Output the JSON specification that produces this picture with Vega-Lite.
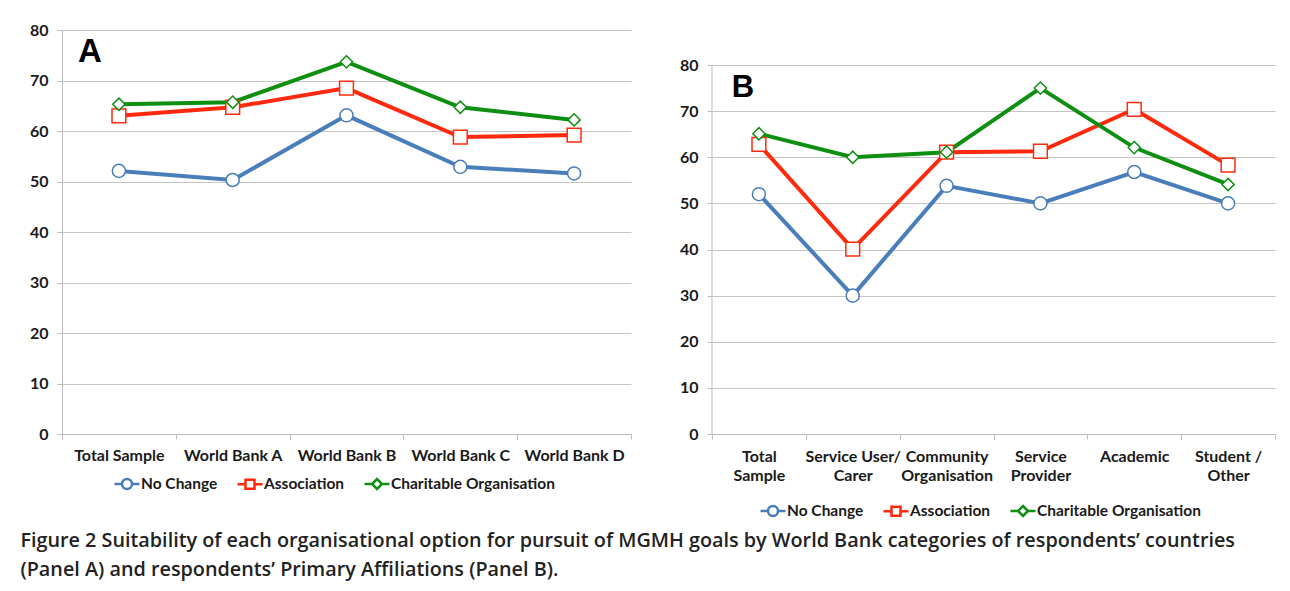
{
  "$schema": "https://vega.github.io/schema/vega-lite/v6.json",
  "padding": {"left": 20, "top": 22, "right": 10, "bottom": 4},
  "background": "white",
  "config": {
    "view": {"stroke": null},
    "font": "Lato",
    "axis": {"labelFont": "Lato", "labelFontSize": 16, "labelFontWeight": "bold", "labelColor": "#1a1a1a", "domainColor": "#bdbdbd", "tickColor": "#bdbdbd", "gridColor": "#c4c4c4", "title": null},
    "legend": {"labelFont": "Lato", "labelFontSize": 15.5, "labelFontWeight": "bold", "labelColor": "#1a1a1a", "labelLimit": 0}
  },
  "resolve": {"legend": {"color": "independent"}},
  "title": {
    "text": ["Figure 2 Suitability of each organisational option for pursuit of MGMH goals by World Bank categories of respondents’ countries", "(Panel A) and respondents’ Primary Affiliations (Panel B)."],
    "orient": "bottom", "anchor": "start", "font": "Open Sans", "fontSize": 19.8, "fontWeight": 600, "lineHeight": 28.5, "color": "#222222", "offset": 10, "dx": -9
  },
  "datasets": {
    "A": [
      {"category": "Total Sample", "series": "No Change", "value": 52.1},
      {"category": "World Bank A", "series": "No Change", "value": 50.3},
      {"category": "World Bank B", "series": "No Change", "value": 63.1},
      {"category": "World Bank C", "series": "No Change", "value": 52.9},
      {"category": "World Bank D", "series": "No Change", "value": 51.6},
      {"category": "Total Sample", "series": "Association", "value": 63.0},
      {"category": "World Bank A", "series": "Association", "value": 64.7},
      {"category": "World Bank B", "series": "Association", "value": 68.5},
      {"category": "World Bank C", "series": "Association", "value": 58.8},
      {"category": "World Bank D", "series": "Association", "value": 59.2},
      {"category": "Total Sample", "series": "Charitable Organisation", "value": 65.3},
      {"category": "World Bank A", "series": "Charitable Organisation", "value": 65.7},
      {"category": "World Bank B", "series": "Charitable Organisation", "value": 73.7},
      {"category": "World Bank C", "series": "Charitable Organisation", "value": 64.7},
      {"category": "World Bank D", "series": "Charitable Organisation", "value": 62.2}
    ],
    "B": [
      {"category": "Total Sample", "series": "No Change", "value": 52.0},
      {"category": "Service User/ Carer", "series": "No Change", "value": 30.0},
      {"category": "Community Organisation", "series": "No Change", "value": 53.8},
      {"category": "Service Provider", "series": "No Change", "value": 50.0},
      {"category": "Academic", "series": "No Change", "value": 56.8},
      {"category": "Student / Other", "series": "No Change", "value": 50.0},
      {"category": "Total Sample", "series": "Association", "value": 62.8},
      {"category": "Service User/ Carer", "series": "Association", "value": 40.1},
      {"category": "Community Organisation", "series": "Association", "value": 61.1},
      {"category": "Service Provider", "series": "Association", "value": 61.3},
      {"category": "Academic", "series": "Association", "value": 70.4},
      {"category": "Student / Other", "series": "Association", "value": 58.3},
      {"category": "Total Sample", "series": "Charitable Organisation", "value": 65.1},
      {"category": "Service User/ Carer", "series": "Charitable Organisation", "value": 60.0},
      {"category": "Community Organisation", "series": "Charitable Organisation", "value": 61.1},
      {"category": "Service Provider", "series": "Charitable Organisation", "value": 75.0},
      {"category": "Academic", "series": "Charitable Organisation", "value": 62.1},
      {"category": "Student / Other", "series": "Charitable Organisation", "value": 54.1}
    ],
    "labelA": [{"label": "A"}],
    "labelB": [{"label": "B"}],
    "axisB": [{"from": 0, "to": 80}]
  },
  "spacing": 47,
  "hconcat": [
    {
      "width": 569,
      "height": 404,
      "layer": [
        {
          "data": {"name": "A"},
          "encoding": {
            "x": {"field": "category", "type": "nominal", "bandPosition": 0.5, "sort": ["Total Sample", "World Bank A", "World Bank B", "World Bank C", "World Bank D"], "scale": {"type": "band", "paddingInner": 0, "paddingOuter": 0}, "axis": {"labelAngle": 0, "tickBand": "extent", "tickSize": 5, "labelPadding": 8, "labelLimit": 0}},
            "y": {"field": "value", "type": "quantitative", "scale": {"domain": [0, 80], "nice": false}, "axis": {"values": [0, 10, 20, 30, 40, 50, 60, 70, 80], "grid": true, "tickSize": 5, "labelPadding": 9}},
            "color": {"field": "series", "type": "nominal", "scale": {"domain": ["No Change", "Association", "Charitable Organisation"], "range": ["#4a7ebb", "#ff2a0e", "#0f8f12"]}, "legend": null}
          },
          "layer": [
            {
              "mark": {"type": "line", "strokeWidth": 4},
              "encoding": {
                "color": {"field": "series", "type": "nominal",
                  "legend": {"orient": "none", "legendX": 51, "legendY": 440, "direction": "horizontal", "title": null, "symbolSize": 625, "symbolStrokeWidth": 2.5, "columnPadding": 14, "labelOffset": 0,
                    "encode": {"symbols": {"update": {"shape": {"signal": "datum.value === 'No Change' ? 'M-1,0H-0.4M0.4,0H1M-0.4,0A0.4,0.4,0,1,1,0.4,0A0.4,0.4,0,1,1,-0.4,0Z' : datum.value === 'Association' ? 'M-1,0H-0.36M0.36,0H1M-0.36,-0.36H0.36V0.36H-0.36Z' : 'M-1,0H-0.4M0.4,0H1M-0.4,0L0,-0.4L0.4,0L0,0.4Z'"}, "fill": {"value": "white"}}}}}}
              }
            },
            {
              "transform": [{"filter": "datum.series === 'No Change'"}],
              "mark": {"type": "point", "shape": "circle", "filled": false, "fill": "white", "fillOpacity": 1, "opacity": 1, "strokeWidth": 1.5, "size": 170}
            },
            {
              "transform": [{"filter": "datum.series === 'Association'"}],
              "mark": {"type": "point", "shape": "square", "filled": false, "fill": "white", "fillOpacity": 1, "opacity": 1, "strokeWidth": 1.5, "size": 190}
            },
            {
              "transform": [{"filter": "datum.series === 'Charitable Organisation'"}],
              "mark": {"type": "point", "shape": "diamond", "filled": false, "fill": "white", "fillOpacity": 1, "opacity": 1, "strokeWidth": 1.5, "size": 150}
            }
          ]
        },
        {
          "data": {"name": "labelA"},
          "mark": {"type": "text", "font": "Liberation Sans", "fontSize": 33, "fontWeight": "bold", "align": "center", "baseline": "middle", "dx": -29, "color": "black"},
          "encoding": {
            "x": {"datum": "Total Sample", "type": "nominal"},
            "y": {"datum": 75.6, "type": "quantitative"},
            "text": {"field": "label"}
          }
        }
      ]
    },
    {
      "width": 563,
      "height": 404,
      "layer": [
        {
          "data": {"name": "B"},
          "encoding": {
            "x": {"field": "category", "type": "nominal", "bandPosition": 0.5, "sort": ["Total Sample", "Service User/ Carer", "Community Organisation", "Service Provider", "Academic", "Student / Other"], "scale": {"type": "band", "paddingInner": 0, "paddingOuter": 0},
              "axis": {"labelAngle": 0, "tickBand": "extent", "tickSize": 5, "labelPadding": 9, "labelLimit": 0, "labelLineHeight": 19,
                "labelExpr": "datum.label === 'Total Sample' ? ['Total', 'Sample'] : datum.label === 'Service User/ Carer' ? ['Service User/', 'Carer'] : datum.label === 'Community Organisation' ? ['Community', 'Organisation'] : datum.label === 'Service Provider' ? ['Service', 'Provider'] : datum.label === 'Student / Other' ? ['Student /', 'Other'] : datum.label"}},
            "y": {"field": "value", "type": "quantitative", "scale": {"domain": [0, 87.59], "nice": false}, "axis": {"values": [0, 10, 20, 30, 40, 50, 60, 70, 80], "grid": true, "domain": false, "tickSize": 5, "labelPadding": 9}},
            "color": {"field": "series", "type": "nominal", "scale": {"domain": ["No Change", "Association", "Charitable Organisation"], "range": ["#4a7ebb", "#ff2a0e", "#0f8f12"]}, "legend": null}
          },
          "layer": [
            {
              "mark": {"type": "line", "strokeWidth": 4},
              "encoding": {
                "color": {"field": "series", "type": "nominal",
                  "legend": {"orient": "none", "legendX": 47, "legendY": 467, "direction": "horizontal", "title": null, "symbolSize": 625, "symbolStrokeWidth": 2.5, "columnPadding": 14, "labelOffset": 0,
                    "encode": {"symbols": {"update": {"shape": {"signal": "datum.value === 'No Change' ? 'M-1,0H-0.4M0.4,0H1M-0.4,0A0.4,0.4,0,1,1,0.4,0A0.4,0.4,0,1,1,-0.4,0Z' : datum.value === 'Association' ? 'M-1,0H-0.36M0.36,0H1M-0.36,-0.36H0.36V0.36H-0.36Z' : 'M-1,0H-0.4M0.4,0H1M-0.4,0L0,-0.4L0.4,0L0,0.4Z'"}, "fill": {"value": "white"}}}}}}
              }
            },
            {
              "transform": [{"filter": "datum.series === 'No Change'"}],
              "mark": {"type": "point", "shape": "circle", "filled": false, "fill": "white", "fillOpacity": 1, "opacity": 1, "strokeWidth": 1.5, "size": 170}
            },
            {
              "transform": [{"filter": "datum.series === 'Association'"}],
              "mark": {"type": "point", "shape": "square", "filled": false, "fill": "white", "fillOpacity": 1, "opacity": 1, "strokeWidth": 1.5, "size": 190}
            },
            {
              "transform": [{"filter": "datum.series === 'Charitable Organisation'"}],
              "mark": {"type": "point", "shape": "diamond", "filled": false, "fill": "white", "fillOpacity": 1, "opacity": 1, "strokeWidth": 1.5, "size": 150}
            }
          ]
        },
        {
          "data": {"name": "axisB"},
          "mark": {"type": "rule", "color": "#bdbdbd", "strokeWidth": 1},
          "encoding": {
            "x": {"datum": "Total Sample", "type": "nominal", "bandPosition": 0},
            "y": {"field": "from", "type": "quantitative"},
            "y2": {"field": "to"}
          }
        },
        {
          "data": {"name": "labelB"},
          "mark": {"type": "text", "font": "Liberation Sans", "fontSize": 31, "fontWeight": "bold", "align": "center", "baseline": "middle", "dx": -16, "color": "black"},
          "encoding": {
            "x": {"datum": "Total Sample", "type": "nominal"},
            "y": {"datum": 75, "type": "quantitative"},
            "text": {"field": "label"}
          }
        }
      ]
    }
  ]
}
